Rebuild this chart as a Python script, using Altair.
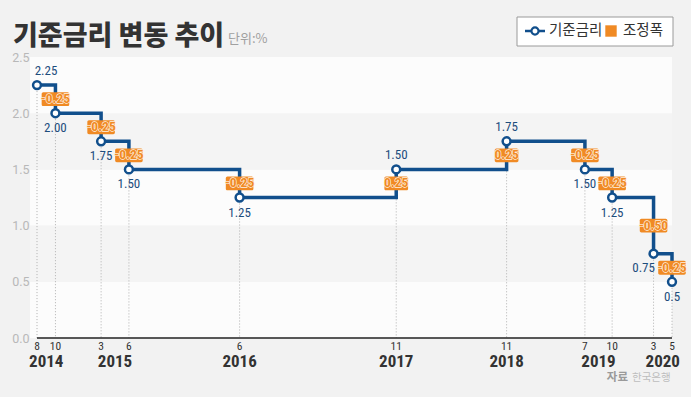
import altair as alt
import pandas as pd

# ---- data ----
dates = ["2014-08-01", "2014-10-01", "2015-03-01", "2015-06-01", "2016-06-01",
         "2017-11-01", "2018-11-01", "2019-07-18", "2019-10-16", "2020-03-01", "2020-05-01"]
rates = [2.25, 2.00, 1.75, 1.50, 1.25, 1.50, 1.75, 1.50, 1.25, 0.75, 0.50]
rate_labels = ["2.25", "2.00", "1.75", "1.50", "1.25", "1.50", "1.75", "1.50", "1.25", "0.75", "0.5"]
change_labels = ["", "-0.25", "-0.25", "-0.25", "-0.25", "0.25", "0.25", "-0.25", "-0.25", "-0.50", "-0.25"]
month_labels = ["8", "10", "3", "6", "6", "11", "11", "7", "10", "3", "5"]
y_ticks = [0.0, 0.5, 1.0, 1.5, 2.0, 2.5]

BLUE = "#114f8c"
ORANGE = "#f08a24"
NUM_FONT = "Liberation Sans Narrow, Roboto Condensed, Roboto, sans-serif"
KR_FONT = "Noto Sans CJK KR"

df = pd.DataFrame({"date": dates, "rate": rates, "rate_label": rate_labels,
                   "change": change_labels, "month": month_labels})
df["year"] = [d[:4] for d in dates]
df["prev"] = df["rate"].shift(1)
df["mid"] = (df["rate"] + df["prev"]) / 2
df["first"] = df["prev"].isna()
df["dir"] = ["up" if (pd.isna(p) or r > p) else "down" for r, p in zip(df["rate"], df["prev"])]
ts = pd.to_datetime(df["date"])
gap_next = (ts.shift(-1) - ts).dt.days
df["crowded"] = [(g < 70) if not pd.isna(g) else False for g in gap_next]
chg = df[df["change"] != ""].copy()

years_df = (pd.DataFrame({"year": df["year"], "t": ts})
            .groupby("year")["t"].mean().reset_index())
years_df["date"] = years_df["t"].dt.strftime("%Y-%m-%dT%H:%M:%S")
years_df = years_df[["year", "date"]]

bands = pd.DataFrame({"lo": y_ticks[:-1], "hi": y_ticks[1:]})
bands["shade"] = ["w" if i % 2 == 0 else "g" for i in range(len(bands))]

W, H = 635, 281
X = alt.X("date:T", scale=alt.Scale(nice=False, padding=0), axis=None)
YSC = alt.Scale(domain=[0, 2.5], nice=False)
YAX = alt.Axis(values=y_ticks, format=".1f", title=None, ticks=False,
               domain=False, grid=False, labelColor="#b8b8b8",
               labelFontSize=12.5, labelFont="Roboto", labelPadding=8)


def Yq(field):
    return alt.Y(field, scale=YSC, axis=YAX, title=None)


band_layer = alt.Chart(bands).mark_rect().encode(
    x=alt.value(-7), x2=alt.value(W),
    y=Yq("lo:Q"), y2="hi:Q",
    color=alt.Color("shade:N", scale=alt.Scale(domain=["w", "g"], range=["#fcfcfc", "#f4f4f4"]),
                    legend=None),
)

base = alt.Chart(df)

drops = base.mark_rule(strokeDash=[1, 2], color="#b0b0b0", strokeWidth=1).encode(
    x=X, y=Yq("rate:Q"), y2=alt.datum(0))

axis_line = alt.Chart(pd.DataFrame({"z": [0]})).mark_rule(color="#222222", strokeWidth=1.6).encode(
    y=Yq("z:Q"), x=alt.value(0), x2=alt.value(W))

step = base.mark_line(interpolate="step-after", color=BLUE, strokeWidth=3.5).encode(
    x=X, y=Yq("rate:Q"))

pts = base.mark_point(shape="circle", filled=True, fill="white", stroke=BLUE,
                      strokeWidth=2.5, size=62, opacity=1).encode(x=X, y=Yq("rate:Q"))

LAB = dict(font=NUM_FONT, fontSize=13, color="#1d4d7d")
lab_first = base.transform_filter(alt.datum.first == True).mark_text(
    dy=-14, dx=9, **LAB).encode(x=X, y=Yq("rate:Q"), text="rate_label:N")
lab_up = base.transform_filter((alt.datum.dir == "up") & (alt.datum.first == False)).mark_text(
    dy=-14, **LAB).encode(x=X, y=Yq("rate:Q"), text="rate_label:N")
lab_dn = base.transform_filter((alt.datum.dir == "down") & (alt.datum.crowded == False)).mark_text(
    dy=15, **LAB).encode(x=X, y=Yq("rate:Q"), text="rate_label:N")
lab_dn2 = base.transform_filter((alt.datum.dir == "down") & (alt.datum.crowded == True)).mark_text(
    dy=14, dx=-10, **LAB).encode(x=X, y=Yq("rate:Q"), text="rate_label:N")

PATH_LONG = ("M-0.88,-0.5H0.88A0.12,0.12,0,0,1,1,-0.38V0.38A0.12,0.12,0,0,1,0.88,0.5"
             "H-0.88A0.12,0.12,0,0,1,-1,0.38V-0.38A0.12,0.12,0,0,1,-0.88,-0.5Z")
PATH_SHORT = ("M-0.74,-0.5H0.74A0.12,0.12,0,0,1,0.86,-0.38V0.38A0.12,0.12,0,0,1,0.74,0.5"
              "H-0.74A0.12,0.12,0,0,1,-0.86,0.38V-0.38A0.12,0.12,0,0,1,-0.74,-0.5Z")

cbase = alt.Chart(chg)
boxes = cbase.mark_point(filled=True, color=ORANGE, opacity=1, size=760).encode(
    x=X, y=Yq("mid:Q"),
    shape=alt.condition(alt.datum.dir == "up", alt.value(PATH_SHORT), alt.value(PATH_LONG)))
halo = cbase.mark_text(font=NUM_FONT, fontSize=13.5, fontWeight="bold", color="#fff1e0",
                       stroke="#fff1e0", strokeWidth=1.3).encode(x=X, y=Yq("mid:Q"), text="change:N")
ctext = cbase.mark_text(font=NUM_FONT, fontSize=13.5, fontWeight="bold", color=ORANGE).encode(
    x=X, y=Yq("mid:Q"), text="change:N")

months = base.mark_text(font=NUM_FONT, fontSize=11.5, color="#333333", baseline="middle").encode(
    x=X, y=alt.value(H + 9), text="month:N")
years = alt.Chart(years_df).mark_text(font=NUM_FONT, fontSize=17, fontWeight="bold",
                                      color="#333333", baseline="middle").encode(
    x=X, y=alt.value(H + 24), text="year:N")


def label(txt, x, y, **kw):
    return alt.Chart(pd.DataFrame({"t": [txt]})).mark_text(**kw).encode(
        x=alt.value(x), y=alt.value(y), text="t:N")


title = label("기준금리 변동 추이", -24, -12, font=KR_FONT, fontSize=27, fontWeight=900,
              color="#333333", align="left", baseline="alphabetic")
unit = label("단위:%", 191, -14, font=KR_FONT, fontSize=13, color="#a0a0a0",
             align="left", baseline="alphabetic")

one = pd.DataFrame({"a": [0]})
legend_box = alt.Chart(one).mark_rect(
    fill="white", stroke="#9a9a9a", strokeWidth=1).encode(
    x=alt.value(480), x2=alt.value(636), y=alt.value(-40), y2=alt.value(-11))
legend_line = alt.Chart(one).mark_rule(color=BLUE, strokeWidth=2.5).encode(
    x=alt.value(488), x2=alt.value(508), y=alt.value(-26))
legend_dot = alt.Chart(one).mark_point(
    shape="circle", filled=True, fill="white", stroke=BLUE, strokeWidth=2.2, size=50, opacity=1).encode(
    x=alt.value(498), y=alt.value(-26))
legend_t1 = label("기준금리", 512, -26, font=KR_FONT, fontSize=14.5, color="#333333",
                  align="left", baseline="middle")
legend_sq = alt.Chart(one).mark_point(
    shape="square", filled=True, color=ORANGE, size=130, opacity=1).encode(
    x=alt.value(574), y=alt.value(-26))
legend_t2 = label("조정폭", 586, -26, font=KR_FONT, fontSize=14.5, color="#333333",
                  align="left", baseline="middle")

src1 = label("자료", 591, H + 40, font=KR_FONT, fontSize=11.5, fontWeight="bold", color="#9a9a9a",
             align="right", baseline="middle")
src2 = label("한국은행", 595, H + 40, font=KR_FONT, fontSize=10.5, color="#bdbdbd",
             align="left", baseline="middle")

chart = alt.layer(
    band_layer, drops, axis_line, step, pts, lab_first, lab_up, lab_dn, lab_dn2, boxes, halo, ctext,
    months, years, title, unit, legend_box, legend_line, legend_dot, legend_t1,
    legend_sq, legend_t2, src1, src2,
).properties(
    width=W, height=H,
    padding={"left": 37, "top": 57, "right": 19, "bottom": 59},
    autosize=alt.AutoSizeParams(type="none"),
    background="#f2f2f2",
).configure_view(stroke=None)

chart.save("out.html", embed_options={"renderer": "svg", "actions": False})
